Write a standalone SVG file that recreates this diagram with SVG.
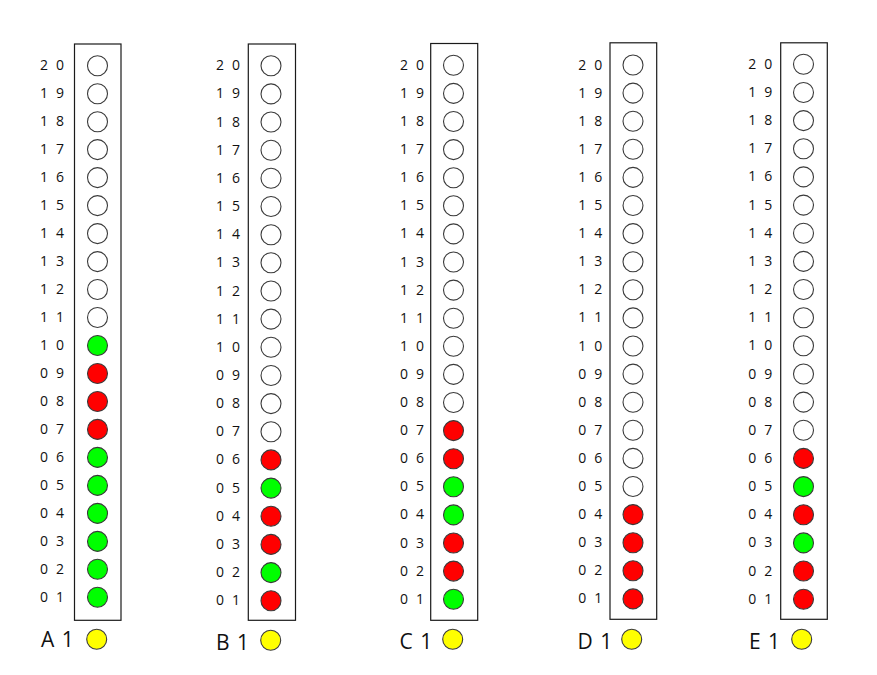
<svg xmlns="http://www.w3.org/2000/svg" width="877" height="675" viewBox="0 0 877 675">
<style>
.bg{fill:#ffffff}
.box{fill:#ffffff;stroke:#1a1a1a;stroke-width:1.2}
circle{stroke:#3a3a3a;stroke-width:1.1}
.w{fill:#ffffff}
.g{fill:#00ff00}
.r{fill:#ff0000}
.y{fill:#ffff00}
text{font-family:"Open Sans","Liberation Sans",sans-serif;fill:#111111}
.n{font-size:14px;letter-spacing:2.2px}
.t{font-size:21px;letter-spacing:1px}
</style>
<rect class="bg" x="0" y="0" width="877" height="675"/>

<g id="colA">
<rect class="box" x="74.5" y="44" width="46.5" height="576.3"/>
<g class="n">
<text x="40" y="70.2">2 0</text><text x="40" y="98.2">1 9</text><text x="40" y="126.2">1 8</text><text x="40" y="154.1">1 7</text><text x="40" y="182.1">1 6</text><text x="40" y="210.1">1 5</text><text x="40" y="238.1">1 4</text><text x="40" y="266.1">1 3</text><text x="40" y="294">1 2</text><text x="40" y="322">1 1</text><text x="40" y="350">1 0</text><text x="40" y="378">0 9</text><text x="40" y="406">0 8</text><text x="40" y="433.9">0 7</text><text x="40" y="461.9">0 6</text><text x="40" y="489.9">0 5</text><text x="40" y="517.9">0 4</text><text x="40" y="545.9">0 3</text><text x="40" y="573.8">0 2</text><text x="40" y="601.8">0 1</text>
</g>
<circle class="w" cx="97.5" cy="65.7" r="10"/><circle class="w" cx="97.5" cy="93.7" r="10"/><circle class="w" cx="97.5" cy="121.7" r="10"/><circle class="w" cx="97.5" cy="149.6" r="10"/><circle class="w" cx="97.5" cy="177.6" r="10"/><circle class="w" cx="97.5" cy="205.6" r="10"/><circle class="w" cx="97.5" cy="233.6" r="10"/><circle class="w" cx="97.5" cy="261.6" r="10"/><circle class="w" cx="97.5" cy="289.5" r="10"/><circle class="w" cx="97.5" cy="317.5" r="10"/>
<circle class="g" cx="97.5" cy="345.5" r="10"/><circle class="r" cx="97.5" cy="373.5" r="10"/><circle class="r" cx="97.5" cy="401.5" r="10"/><circle class="r" cx="97.5" cy="429.4" r="10"/><circle class="g" cx="97.5" cy="457.4" r="10"/><circle class="g" cx="97.5" cy="485.4" r="10"/><circle class="g" cx="97.5" cy="513.4" r="10"/><circle class="g" cx="97.5" cy="541.4" r="10"/><circle class="g" cx="97.5" cy="569.3" r="10"/><circle class="g" cx="97.5" cy="597.3" r="10"/>
<text class="t" x="41" y="647.3">A 1</text>
<circle class="y" cx="96.7" cy="639.3" r="10"/>
</g>

<g id="colB">
<rect class="box" x="248.3" y="44" width="47.2" height="576.3"/>
<g class="n">
<text x="216" y="70.2">2 0</text><text x="216" y="98.4">1 9</text><text x="216" y="126.5">1 8</text><text x="216" y="154.7">1 7</text><text x="216" y="182.8">1 6</text><text x="216" y="211">1 5</text><text x="216" y="239.2">1 4</text><text x="216" y="267.3">1 3</text><text x="216" y="295.5">1 2</text><text x="216" y="323.6">1 1</text><text x="216" y="351.8">1 0</text><text x="216" y="380">0 9</text><text x="216" y="408.1">0 8</text><text x="216" y="436.3">0 7</text><text x="216" y="464.4">0 6</text><text x="216" y="492.6">0 5</text><text x="216" y="520.8">0 4</text><text x="216" y="548.9">0 3</text><text x="216" y="577.1">0 2</text><text x="216" y="605.2">0 1</text>
</g>
<circle class="w" cx="271" cy="65.7" r="10"/><circle class="w" cx="271" cy="93.9" r="10"/><circle class="w" cx="271" cy="122" r="10"/><circle class="w" cx="271" cy="150.2" r="10"/><circle class="w" cx="271" cy="178.3" r="10"/><circle class="w" cx="271" cy="206.5" r="10"/><circle class="w" cx="271" cy="234.7" r="10"/><circle class="w" cx="271" cy="262.8" r="10"/><circle class="w" cx="271" cy="291" r="10"/><circle class="w" cx="271" cy="319.1" r="10"/><circle class="w" cx="271" cy="347.3" r="10"/><circle class="w" cx="271" cy="375.5" r="10"/><circle class="w" cx="271" cy="403.6" r="10"/><circle class="w" cx="271" cy="431.8" r="10"/>
<circle class="r" cx="271" cy="459.9" r="10"/><circle class="g" cx="271" cy="488.1" r="10"/><circle class="r" cx="271" cy="516.3" r="10"/><circle class="r" cx="271" cy="544.4" r="10"/><circle class="g" cx="271" cy="572.6" r="10"/><circle class="r" cx="271" cy="600.7" r="10"/>
<text class="t" x="216" y="649.5">B 1</text>
<circle class="y" cx="270.7" cy="640.3" r="10"/>
</g>

<g id="colC">
<rect class="box" x="430.7" y="43.5" width="47" height="576.8"/>
<g class="n">
<text x="400" y="69.8">2 0</text><text x="400" y="97.9">1 9</text><text x="400" y="126">1 8</text><text x="400" y="154.1">1 7</text><text x="400" y="182.2">1 6</text><text x="400" y="210.3">1 5</text><text x="400" y="238.4">1 4</text><text x="400" y="266.5">1 3</text><text x="400" y="294.6">1 2</text><text x="400" y="322.7">1 1</text><text x="400" y="350.8">1 0</text><text x="400" y="378.9">0 9</text><text x="400" y="407">0 8</text><text x="400" y="435.1">0 7</text><text x="400" y="463.2">0 6</text><text x="400" y="491.3">0 5</text><text x="400" y="519.4">0 4</text><text x="400" y="547.5">0 3</text><text x="400" y="575.6">0 2</text><text x="400" y="603.7">0 1</text>
</g>
<circle class="w" cx="453.5" cy="65.3" r="10"/><circle class="w" cx="453.5" cy="93.4" r="10"/><circle class="w" cx="453.5" cy="121.5" r="10"/><circle class="w" cx="453.5" cy="149.6" r="10"/><circle class="w" cx="453.5" cy="177.7" r="10"/><circle class="w" cx="453.5" cy="205.8" r="10"/><circle class="w" cx="453.5" cy="233.9" r="10"/><circle class="w" cx="453.5" cy="262" r="10"/><circle class="w" cx="453.5" cy="290.1" r="10"/><circle class="w" cx="453.5" cy="318.2" r="10"/><circle class="w" cx="453.5" cy="346.3" r="10"/><circle class="w" cx="453.5" cy="374.4" r="10"/><circle class="w" cx="453.5" cy="402.5" r="10"/>
<circle class="r" cx="453.5" cy="430.6" r="10"/><circle class="r" cx="453.5" cy="458.7" r="10"/><circle class="g" cx="453.5" cy="486.8" r="10"/><circle class="g" cx="453.5" cy="514.9" r="10"/><circle class="r" cx="453.5" cy="543" r="10"/><circle class="r" cx="453.5" cy="571.1" r="10"/><circle class="g" cx="453.5" cy="599.2" r="10"/>
<text class="t" x="399.5" y="649">C 1</text>
<circle class="y" cx="452.7" cy="639.3" r="10"/>
</g>

<g id="colD">
<rect class="box" x="610" y="42.8" width="46.7" height="576.5"/>
<g class="n">
<text x="578.3" y="69.5">2 0</text><text x="578.3" y="97.6">1 9</text><text x="578.3" y="125.7">1 8</text><text x="578.3" y="153.8">1 7</text><text x="578.3" y="181.9">1 6</text><text x="578.3" y="210">1 5</text><text x="578.3" y="238.1">1 4</text><text x="578.3" y="266.2">1 3</text><text x="578.3" y="294.3">1 2</text><text x="578.3" y="322.4">1 1</text><text x="578.3" y="350.5">1 0</text><text x="578.3" y="378.6">0 9</text><text x="578.3" y="406.7">0 8</text><text x="578.3" y="434.8">0 7</text><text x="578.3" y="462.9">0 6</text><text x="578.3" y="491">0 5</text><text x="578.3" y="519.1">0 4</text><text x="578.3" y="547.2">0 3</text><text x="578.3" y="575.3">0 2</text><text x="578.3" y="603.4">0 1</text>
</g>
<circle class="w" cx="633" cy="65" r="10"/><circle class="w" cx="633" cy="93.1" r="10"/><circle class="w" cx="633" cy="121.2" r="10"/><circle class="w" cx="633" cy="149.3" r="10"/><circle class="w" cx="633" cy="177.4" r="10"/><circle class="w" cx="633" cy="205.5" r="10"/><circle class="w" cx="633" cy="233.6" r="10"/><circle class="w" cx="633" cy="261.7" r="10"/><circle class="w" cx="633" cy="289.8" r="10"/><circle class="w" cx="633" cy="317.9" r="10"/><circle class="w" cx="633" cy="346" r="10"/><circle class="w" cx="633" cy="374.1" r="10"/><circle class="w" cx="633" cy="402.2" r="10"/><circle class="w" cx="633" cy="430.3" r="10"/><circle class="w" cx="633" cy="458.4" r="10"/><circle class="w" cx="633" cy="486.5" r="10"/>
<circle class="r" cx="633" cy="514.6" r="10"/><circle class="r" cx="633" cy="542.7" r="10"/><circle class="r" cx="633" cy="570.8" r="10"/><circle class="r" cx="633" cy="598.9" r="10"/>
<text class="t" x="577.5" y="649">D 1</text>
<circle class="y" cx="631.7" cy="639.3" r="10"/>
</g>

<g id="colE">
<rect class="box" x="780.7" y="42.8" width="46.6" height="576.5"/>
<g class="n">
<text x="748.3" y="68.8">2 0</text><text x="748.3" y="97">1 9</text><text x="748.3" y="125.1">1 8</text><text x="748.3" y="153.3">1 7</text><text x="748.3" y="181.4">1 6</text><text x="748.3" y="209.6">1 5</text><text x="748.3" y="237.7">1 4</text><text x="748.3" y="265.9">1 3</text><text x="748.3" y="294">1 2</text><text x="748.3" y="322.2">1 1</text><text x="748.3" y="350.3">1 0</text><text x="748.3" y="378.5">0 9</text><text x="748.3" y="406.6">0 8</text><text x="748.3" y="434.8">0 7</text><text x="748.3" y="462.9">0 6</text><text x="748.3" y="491.1">0 5</text><text x="748.3" y="519.2">0 4</text><text x="748.3" y="547.4">0 3</text><text x="748.3" y="575.5">0 2</text><text x="748.3" y="603.7">0 1</text>
</g>
<circle class="w" cx="803.5" cy="64.3" r="10"/><circle class="w" cx="803.5" cy="92.5" r="10"/><circle class="w" cx="803.5" cy="120.6" r="10"/><circle class="w" cx="803.5" cy="148.8" r="10"/><circle class="w" cx="803.5" cy="176.9" r="10"/><circle class="w" cx="803.5" cy="205.1" r="10"/><circle class="w" cx="803.5" cy="233.2" r="10"/><circle class="w" cx="803.5" cy="261.4" r="10"/><circle class="w" cx="803.5" cy="289.5" r="10"/><circle class="w" cx="803.5" cy="317.7" r="10"/><circle class="w" cx="803.5" cy="345.8" r="10"/><circle class="w" cx="803.5" cy="374" r="10"/><circle class="w" cx="803.5" cy="402.1" r="10"/><circle class="w" cx="803.5" cy="430.3" r="10"/>
<circle class="r" cx="803.5" cy="458.4" r="10"/><circle class="g" cx="803.5" cy="486.6" r="10"/><circle class="r" cx="803.5" cy="514.7" r="10"/><circle class="g" cx="803.5" cy="542.9" r="10"/><circle class="r" cx="803.5" cy="571" r="10"/><circle class="r" cx="803.5" cy="599.2" r="10"/>
<text class="t" x="749" y="649">E 1</text>
<circle class="y" cx="801.7" cy="639.3" r="10"/>
</g>
</svg>
